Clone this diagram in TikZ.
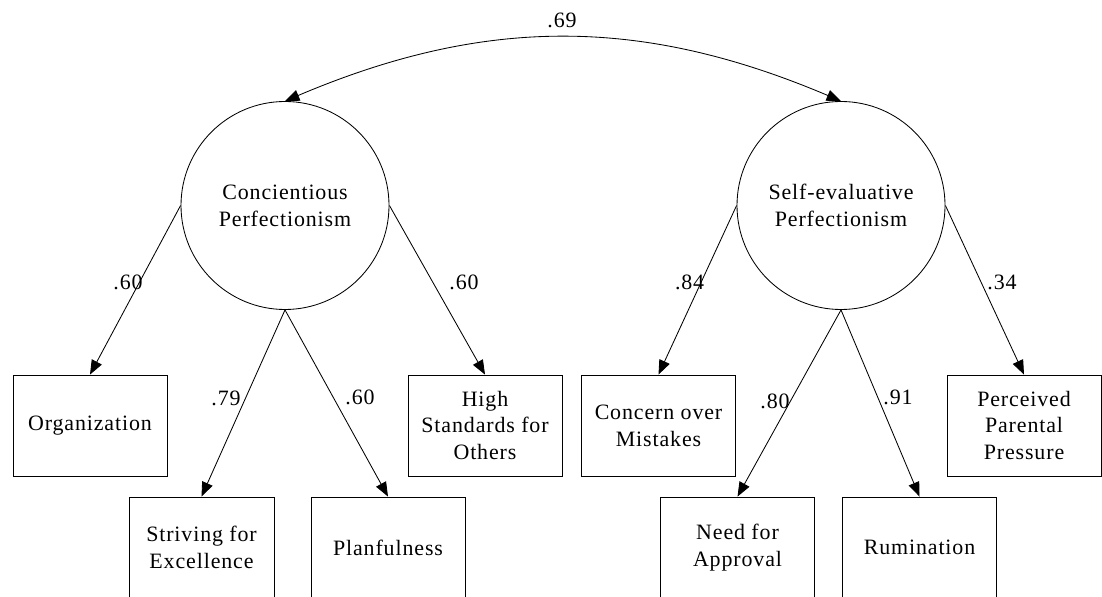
\documentclass[tikz,border=0pt]{standalone}
\usepackage{fontspec}
\setmainfont{Liberation Serif}[LetterSpace=4]
\usetikzlibrary{arrows.meta}

\begin{document}
\begin{tikzpicture}[line width=0.6pt, font=\fontsize{15.6}{19}\selectfont,
      ladung/.style={-{Triangle[length=0.36cm,width=0.28cm]}},
      faktor/.style={draw,circle,minimum size=5.2cm,align=center,inner sep=0pt},
      kasten/.style={draw,rectangle,minimum width=3.85cm,minimum height=2.525cm,
        align=center,inner sep=0pt}]
    \useasboundingbox (0,0) rectangle (27.55,14.9);
    % latent factors
    \node[faktor] at (7.125,9.7625) (F1) {Concientious\\Perfectionism};
    \node[faktor] at (21.025,9.7625) (F2) {Self-evaluative\\Perfectionism};
    % indicators
    \node[kasten] at (2.25,4.2625) (B1) {Organization};
    \node[kasten,minimum width=3.625cm] at (5.0375,1.2125) (B2) {Striving for\\Excellence};
    \node[kasten] at (9.7,1.2125) (B3) {Planfulness};
    \node[kasten] at (12.125,4.2625) (B4) {High\\Standards for\\Others};
    \node[kasten] at (16.4625,4.2625) (B5) {Concern over\\Mistakes};
    \node[kasten] at (18.4375,1.2125) (B6) {Need for\\Approval};
    \node[kasten] at (22.9875,1.2125) (B7) {Rumination};
    \node[kasten] at (25.6,4.2625) (B8) {Perceived\\Parental\\Pressure};
    % loadings
    \draw[ladung] (F1.west)--(B1.north) ;
    \draw[ladung] (F1.south)--(B2.north) ;
    \draw[ladung] (F1.south)--(B3.north) ;
    \draw[ladung] (F1.east)--(B4.north) ;
    \draw[ladung] (F2.west)--(B5.north) ;
    \draw[ladung] (F2.south)--(B6.north) ;
    \draw[ladung] (F2.south)--(B7.north) ;
    \draw[ladung] (F2.east)--(B8.north) ;
    \draw[{Triangle[length=0.36cm,width=0.28cm]}-{Triangle[length=0.36cm,width=0.28cm]}]
      (F1.north) to[bend left=23] (F2.north) ;
    % values
    \node at (14.05,14.4) (W0) {.69};
    \node at (3.2,7.85) (W1) {.60};
    \node at (5.65,4.95) (W2) {.79};
    \node at (9.0,4.975) (W3) {.60};
    \node at (11.6,7.85) (W4) {.60};
    \node at (17.24,7.85) (W5) {.84};
    \node at (19.375,4.875) (W6) {.80};
    \node at (22.45,4.975) (W7) {.91};
    \node at (25.05,7.85) (W8) {.34};
  \end{tikzpicture}
\end{document}
